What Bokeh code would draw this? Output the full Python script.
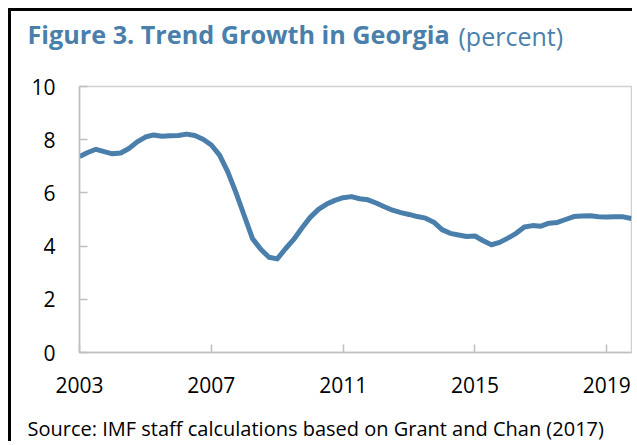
from bokeh.plotting import figure
from bokeh.models import Range1d, FixedTicker, Label, Title, ColumnDataSource
from bokeh.embed import file_html
from bokeh.resources import INLINE

# ---- data (quarterly, 2003Q1 .. 2019Q4) ----
start_year = 2003
trend_growth = [
    7.37, 7.52, 7.64, 7.55, 7.47, 7.50, 7.67, 7.92,
    8.10, 8.18, 8.13, 8.15, 8.16, 8.21, 8.16, 8.02,
    7.80, 7.42, 6.79, 6.00, 5.14, 4.28, 3.88, 3.58,
    3.52, 3.90, 4.25, 4.68, 5.08, 5.38, 5.58, 5.72,
    5.82, 5.86, 5.78, 5.74, 5.62, 5.48, 5.35, 5.26,
    5.19, 5.11, 5.05, 4.90, 4.62, 4.48, 4.42, 4.36,
    4.38, 4.20, 4.05, 4.14, 4.30, 4.48, 4.72, 4.77,
    4.75, 4.86, 4.89, 5.00, 5.11, 5.13, 5.14, 5.10,
    5.09, 5.10, 5.10, 5.04,
]
x_tick_years = [2003, 2007, 2011, 2015, 2019]
y_ticks = [0, 2, 4, 6, 8, 10]

title_main = "Figure 3. Trend Growth in Georgia"
title_unit = "(percent)"
source_note = "Source: IMF staff calculations based on Grant and Chan (2017)"

quarters = [start_year + i / 4 for i in range(len(trend_growth))]
src = ColumnDataSource(dict(x=quarters, y=trend_growth))

FONT = "Open Sans"
BLUE = "#4A7FAC"
GRAY = "#BFBFBF"

p = figure(width=624, height=433, output_backend="svg", toolbar_location=None,
           x_range=Range1d(start_year, quarters[-1]), y_range=Range1d(0, 10),
           min_border_left=68, min_border_right=4, min_border_top=75,
           min_border_bottom=92,
           styles={"margin-left": "8px", "margin-top": "8px",
                   "border-left": "3px solid black", "border-top": "3px solid black"})

p.line("x", "y", source=src, line_width=5, line_color=BLUE, line_join="round")

p.xgrid.visible = False
p.ygrid.visible = False
p.outline_line_color = "#D0D0D0"
p.outline_line_width = 1.5

for ax in (p.xaxis[0], p.yaxis[0]):
    ax.axis_line_color = GRAY
    ax.axis_line_width = 1.5
    ax.major_tick_line_color = GRAY
    ax.major_tick_line_width = 1.5
    ax.major_tick_in = 8
    ax.major_tick_out = 0
    ax.minor_tick_line_color = None
    ax.major_label_text_font = FONT
    ax.major_label_text_font_size = "21px"
    ax.major_label_text_color = "#000000"
    ax.major_label_standoff = 24

p.xaxis[0].ticker = FixedTicker(ticks=x_tick_years)
p.yaxis[0].ticker = FixedTicker(ticks=y_ticks)

# bold title part (panel next to the frame, drawn upward from it)
p.add_layout(Label(x=-52, y=53, x_units="screen", y_units="screen",
                   text=title_main, text_font=FONT, text_font_style="bold",
                   text_font_size="25.2px", text_color=BLUE,
                   text_baseline="alphabetic"), "above")
# regular "(percent)" part, in the outer title panel
p.add_layout(Title(text=title_unit, align="left", offset=379, standoff=0,
                   vertical_align="bottom", text_font=FONT,
                   text_font_style="normal", text_font_size="25px",
                   text_color=BLUE), "above")
# source note below the x axis
p.add_layout(Label(x=-52, y=-6, x_units="screen", y_units="screen",
                   text=source_note, text_font=FONT,
                   text_font_size="20px", text_color="#000000",
                   text_baseline="alphabetic"), "below")

open("out.html", "w").write(file_html(p, INLINE))
